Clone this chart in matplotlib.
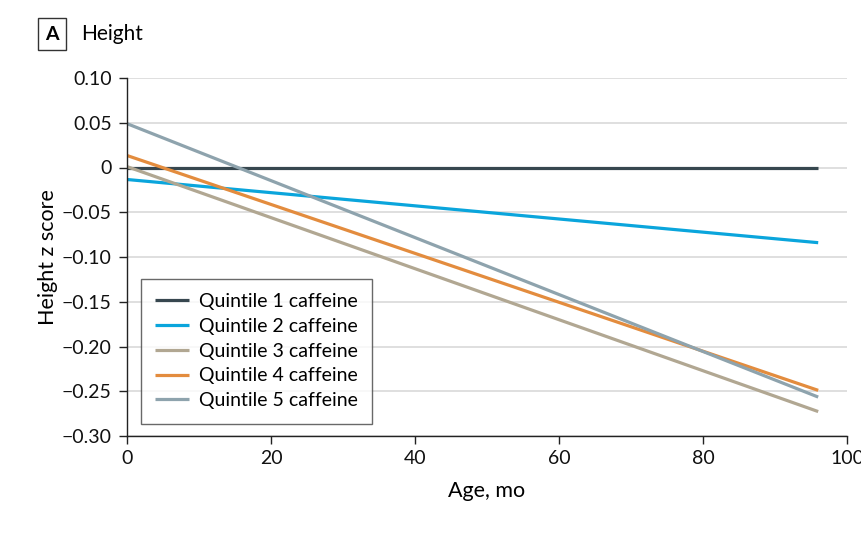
import matplotlib.pyplot as plt
import matplotlib.ticker as ticker

AGE_MO = [0, 96]

QUINTILES = [
    "Quintile 1 caffeine",
    "Quintile 2 caffeine",
    "Quintile 3 caffeine",
    "Quintile 4 caffeine",
    "Quintile 5 caffeine",
]

# height z score at start and end of follow-up
Q1_Z = [0.0, 0.0]
Q2_Z = [-0.0134, -0.0840]
Q3_Z = [0.001, -0.2727]
Q4_Z = [0.0134, -0.2490]
Q5_Z = [0.0490, -0.2565]

COLORS = ["#37474f", "#0aa5dc", "#b1a792", "#e38c3e", "#8ea3ad"]

Y_TICKS = [0.10, 0.05, 0, -0.05, -0.10, -0.15, -0.20, -0.25, -0.30]
Y_LABELS = ["0.10", "0.05", "0", "\u22120.05", "\u22120.10", "\u22120.15",
            "\u22120.20", "\u22120.25", "\u22120.30"]
X_TICKS = [0, 20, 40, 60, 80, 100]

plt.rcParams["font.family"] = ["Lato", "DejaVu Sans"]

fig = plt.figure(figsize=(8.62, 5.46), dpi=100)
ax = fig.add_axes([127 / 862, 1 - 436 / 546, 720 / 862, 358 / 546])

for label, z, color in zip(QUINTILES, [Q1_Z, Q2_Z, Q3_Z, Q4_Z, Q5_Z], COLORS):
    ax.plot(AGE_MO, z, color=color, lw=2.3, label=label, solid_capstyle="butt")

ax.set_xlim(0, 100)
ax.set_ylim(-0.30, 0.10)
ax.set_xticks(X_TICKS)
ax.set_yticks(Y_TICKS)
ax.set_yticklabels(Y_LABELS)
ax.yaxis.grid(True, color="#d9d9d9", lw=1.2)
ax.xaxis.grid(False)
ax.set_axisbelow(True)
for side in ["top", "right"]:
    ax.spines[side].set_visible(False)
for side in ["left", "bottom"]:
    ax.spines[side].set_color("#222222")
    ax.spines[side].set_linewidth(1.0)
ax.tick_params(axis="both", labelsize=14, length=6, width=1.0, color="#222222",
               labelcolor="#111111")
ax.tick_params(axis="y", pad=5)
ax.tick_params(axis="x", pad=4)
ax.set_xlabel("Age, mo", fontsize=15.5, labelpad=10)
ax.set_ylabel("Height z score", fontsize=15.5, labelpad=3)

ax.legend(
    loc="lower left",
    bbox_to_anchor=(0.019, 0.034),
    fontsize=14,
    frameon=True,
    fancybox=False,
    edgecolor="#444444",
    handlelength=1.75,
    handletextpad=0.5,
    labelspacing=0.4,
    borderpad=0.75,
    borderaxespad=0.0,
)

# panel label
fig.text(52 / 862, 1 - 34 / 546, "A", fontsize=14, fontweight="bold", ha="center",
         va="center", bbox=dict(boxstyle="square,pad=0.38", fc="white",
                                ec="#333333", lw=1.0))
fig.text(81 / 862, 1 - 34 / 546, "Height", fontsize=15, ha="left", va="center")

fig.savefig("out.png", dpi=100)
